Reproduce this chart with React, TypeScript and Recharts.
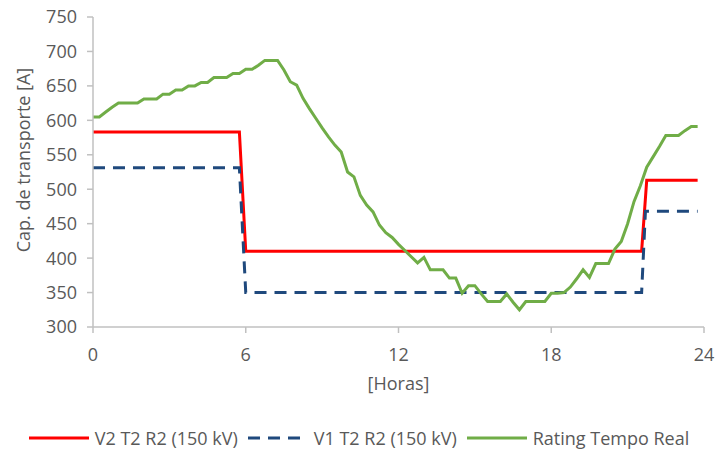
import React from 'react';
import { LineChart, Line, XAxis, YAxis, Legend } from 'recharts';

// Hours (x) and values (y) for each series
const redHours = [0, 5.75, 6.0, 21.55, 21.75, 23.75];
const redValues = [583, 583, 410, 410, 513, 513];

const blueHours = [0, 5.75, 6.0, 21.55, 21.7, 23.75];
const blueValues = [531, 531, 350, 350, 468, 468];

const greenHours = [
  0, 0.25, 0.5, 0.75, 1.0, 1.25, 1.5, 1.75, 2.0, 2.25, 2.5, 2.75, 3.0, 3.25, 3.5, 3.75,
  4.0, 4.25, 4.5, 4.75, 5.0, 5.25, 5.5, 5.75, 6.0, 6.25, 6.5, 6.75, 7.0, 7.25, 7.5, 7.75,
  8.0, 8.25, 8.5, 8.75, 9.0, 9.25, 9.5, 9.75, 10.0, 10.25, 10.5, 10.75, 11.0, 11.25, 11.5, 11.75,
  12.0, 12.25, 12.5, 12.75, 13.0, 13.25, 13.5, 13.75, 14.0, 14.25, 14.5, 14.75, 15.0, 15.25, 15.5, 15.75,
  16.0, 16.25, 16.5, 16.75, 17.0, 17.25, 17.5, 17.75, 18.0, 18.25, 18.5, 18.75, 19.0, 19.25, 19.5, 19.75,
  20.0, 20.25, 20.5, 20.75, 21.0, 21.25, 21.5, 21.75, 22.0, 22.25, 22.5, 22.75, 23.0, 23.25, 23.5, 23.75,
];
const greenValues = [
  605, 605, 612, 619, 625, 625, 625, 625, 631, 631, 631, 638, 638, 644, 644, 650,
  650, 655, 655, 662, 662, 662, 668, 668, 674, 674, 680, 687, 687, 687, 673, 656,
  651, 632, 617, 603, 589, 576, 564, 554, 525, 518, 491, 477, 467, 448, 437, 430,
  420, 411, 402, 393, 401, 383, 383, 383, 371, 371, 349, 360, 360, 348, 337, 337,
  337, 348, 336, 325, 337, 337, 337, 337, 349, 349, 350, 358, 370, 383, 372, 392,
  392, 392, 413, 424, 450, 482, 505, 532, 547, 562, 578, 578, 578, 585, 591, 591,
];

const xTicks = [0, 6, 12, 18, 24];
const yTicks = [300, 350, 400, 450, 500, 550, 600, 650, 700, 750];

const seriesNames = ['V2 T2 R2 (150 kV)', 'V1 T2 R2 (150 kV)', 'Rating Tempo Real'];
const xLabel = '[Horas]';
const yLabel = 'Cap. de transporte [A]';

const toPoints = (hs: number[], vs: number[]) => hs.map((h, i) => ({ h, v: vs[i] }));
const redData = toPoints(redHours, redValues);
const blueData = toPoints(blueHours, blueValues);
const greenData = toPoints(greenHours, greenValues);

const FONT = '"Open Sans", sans-serif';
const TEXT = '#595959';
const AXIS = '#c0c0c0';
const RED = '#ff0000';
const BLUE = '#1f497d';
const GREEN = '#70ad47';

const legendItems = [
  { name: seriesNames[0], color: RED, dash: undefined },
  { name: seriesNames[1], color: BLUE, dash: '12 8' },
  { name: seriesNames[2], color: GREEN, dash: undefined },
];

const renderLegend = () => (
  <div
    style={{
      display: 'flex',
      justifyContent: 'center',
      alignItems: 'center',
      fontFamily: FONT,
      fontSize: 18,
      color: TEXT,
      width: '100%',
    }}
  >
    {legendItems.map((it, i) => (
      <div key={i} style={{ display: 'flex', alignItems: 'center', marginLeft: i === 0 ? 0 : 10 }}>
        <svg width={60} height={10} style={{ marginRight: 6 }}>
          <line x1={0} y1={5} x2={60} y2={5} stroke={it.color} strokeWidth={3} strokeDasharray={it.dash} />
        </svg>
        <span>{it.name}</span>
      </div>
    ))}
  </div>
);

const YLabel = (props: any) => {
  const vb = props.viewBox || {};
  const cx = 23;
  const cy = vb.y + vb.height / 2 - 12;
  return (
    <text
      x={cx}
      y={cy}
      transform={`rotate(-90, ${cx}, ${cy})`}
      textAnchor="middle"
      dominantBaseline="central"
      fill={TEXT}
      fontFamily={FONT}
      fontSize={18}
    >
      {yLabel}
    </text>
  );
};

export default function App() {
  return (
    <div style={{ position: 'absolute', left: 0, top: 0, background: '#fff' }}>
      <LineChart
        width={718}
        height={461}
        margin={{ top: 17, right: 14, bottom: 54, left: 0 }}
        style={{ fontFamily: FONT }}
      >
        <XAxis
          dataKey="h"
          type="number"
          domain={[0, 24]}
          ticks={xTicks}
          allowDuplicatedCategory={false}
          height={80}
          stroke={AXIS}
          strokeWidth={1.5}
          tickSize={6}
          tickMargin={15}
          tick={{ fill: TEXT, fontSize: 18, fontFamily: FONT }}
          label={{ value: xLabel, position: 'insideBottom', offset: 17, fill: TEXT, fontSize: 18, fontFamily: FONT }}
        />
        <YAxis
          type="number"
          domain={[300, 750]}
          ticks={yTicks}
          width={93}
          stroke={AXIS}
          strokeWidth={1.5}
          tickSize={6}
          tickMargin={10}
          tick={{ fill: TEXT, fontSize: 18, fontFamily: FONT }}
          label={<YLabel />}
        />
        <Legend
          layout="horizontal"
          verticalAlign="middle"
          align="center"
          wrapperStyle={{ top: 426, left: 0, width: 718 }}
          content={renderLegend}
        />
        <Line
          data={redData}
          dataKey="v"
          name={seriesNames[0]}
          type="linear"
          stroke={RED}
          strokeWidth={3}
          dot={false}
          isAnimationActive={false}
        />
        <Line
          data={blueData}
          dataKey="v"
          name={seriesNames[1]}
          type="linear"
          stroke={BLUE}
          strokeWidth={3}
          strokeDasharray="12 8"
          dot={false}
          isAnimationActive={false}
        />
        <Line
          data={greenData}
          dataKey="v"
          name={seriesNames[2]}
          type="linear"
          stroke={GREEN}
          strokeWidth={3}
          dot={false}
          isAnimationActive={false}
        />
      </LineChart>
    </div>
  );
}
